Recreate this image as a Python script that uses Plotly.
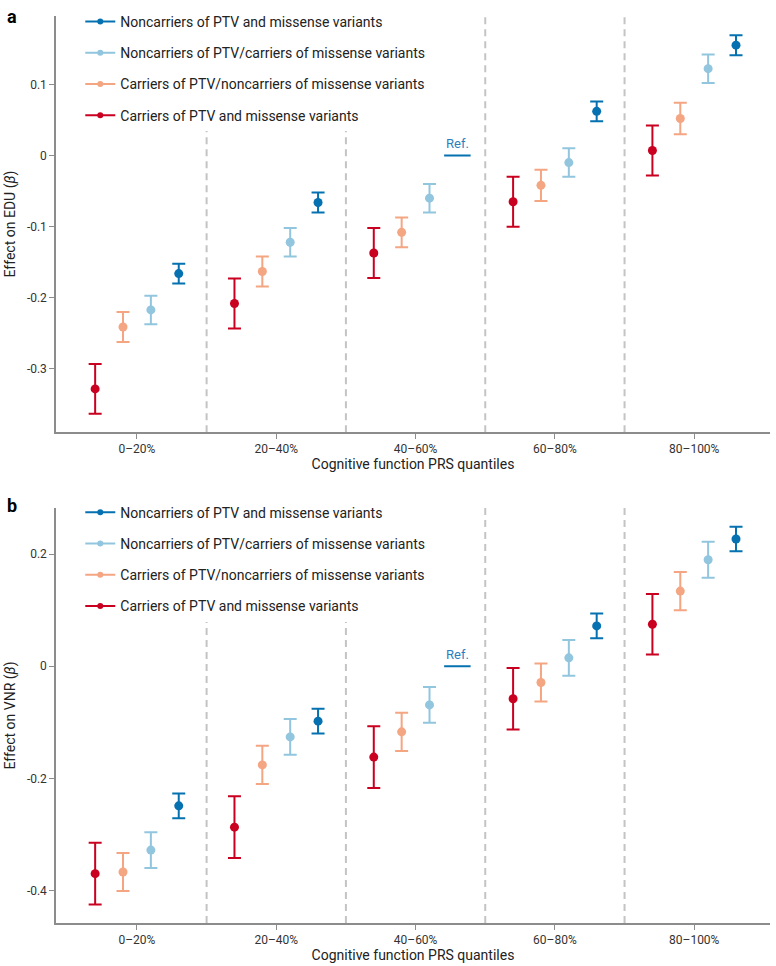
import plotly.graph_objects as go
from plotly.subplots import make_subplots

quantiles = ["0–20%", "20–40%", "40–60%", "60–80%", "80–100%"]
series_names = [
    "Noncarriers of PTV and missense variants",
    "Noncarriers of PTV/carriers of missense variants",
    "Carriers of PTV/noncarriers of missense variants",
    "Carriers of PTV and missense variants",
]
series_colors = ["#0571b0", "#92c5de", "#f4a582", "#ca0020"]
series_offsets = [0.3, 0.1, -0.1, -0.3]

# panel a: EDU (None = reference group)
edu_noncarrier_both = [-0.166, -0.066, None, 0.062, 0.155]
edu_noncarrier_both_err = [0.014, 0.014, None, 0.014, 0.014]
edu_missense_only = [-0.217, -0.122, -0.060, -0.010, 0.122]
edu_missense_only_err = [0.020, 0.020, 0.020, 0.020, 0.020]
edu_ptv_only = [-0.241, -0.163, -0.108, -0.042, 0.052]
edu_ptv_only_err = [0.021, 0.021, 0.021, 0.022, 0.022]
edu_carrier_both = [-0.328, -0.208, -0.137, -0.065, 0.007]
edu_carrier_both_err = [0.035, 0.035, 0.035, 0.035, 0.035]
edu_ticks = [-0.3, -0.2, -0.1, 0, 0.1]

# panel b: VNR
vnr_noncarrier_both = [-0.249, -0.098, None, 0.072, 0.227]
vnr_noncarrier_both_err = [0.022, 0.022, None, 0.022, 0.022]
vnr_missense_only = [-0.328, -0.126, -0.069, 0.015, 0.190]
vnr_missense_only_err = [0.032, 0.032, 0.032, 0.032, 0.032]
vnr_ptv_only = [-0.367, -0.176, -0.117, -0.029, 0.134]
vnr_ptv_only_err = [0.034, 0.034, 0.034, 0.034, 0.034]
vnr_carrier_both = [-0.370, -0.287, -0.162, -0.058, 0.075]
vnr_carrier_both_err = [0.055, 0.055, 0.055, 0.055, 0.054]
vnr_ticks = [-0.4, -0.2, 0, 0.2]

ref_group = 2
ref_value = 0.0

panels = [
    ([edu_noncarrier_both, edu_missense_only, edu_ptv_only, edu_carrier_both],
     [edu_noncarrier_both_err, edu_missense_only_err, edu_ptv_only_err, edu_carrier_both_err],
     "Effect on EDU (<i>β</i>)"),
    ([vnr_noncarrier_both, vnr_missense_only, vnr_ptv_only, vnr_carrier_both],
     [vnr_noncarrier_both_err, vnr_missense_only_err, vnr_ptv_only_err, vnr_carrier_both_err],
     "Effect on VNR (<i>β</i>)"),
]

FONT = "Roboto"
fig = make_subplots(rows=2, cols=1)

for p, (vals, errs, ytitle) in enumerate(panels):
    row = p + 1
    sfx = "" if row == 1 else str(row)
    leg = "legend" if p == 0 else "legend2"
    # legend-only entries (line + small dot)
    for k in range(4):
        fig.add_trace(go.Scatter(
            x=[None], y=[None], mode="lines+markers", name=series_names[k],
            line=dict(color=series_colors[k], width=2),
            marker=dict(color=series_colors[k], size=6),
            legend=leg, legendgroup=f"g{p}{k}", showlegend=True,
        ), row=row, col=1)
    # data, drawn red first
    for k in [3, 2, 1, 0]:
        xs = [i + series_offsets[k] for i in range(len(quantiles))]
        fig.add_trace(go.Scatter(
            x=xs, y=vals[k], mode="markers", showlegend=False,
            marker=dict(color=series_colors[k], size=9),
            error_y=dict(type="data", array=errs[k], color=series_colors[k],
                         thickness=2, width=6.5),
        ), row=row, col=1)
    # reference segment
    xr = ref_group + series_offsets[0]
    fig.add_trace(go.Scatter(
        x=[xr - 0.095, xr + 0.095], y=[ref_value, ref_value], mode="lines",
        line=dict(color=series_colors[0], width=2), showlegend=False,
    ), row=row, col=1)
    fig.add_annotation(x=xr, y=ref_value, text="Ref.", showarrow=False,
                       yshift=12, font=dict(family=FONT, size=13, color="#2a7fc0"),
                       xref="x" + sfx, yref="y" + sfx)
    # y title as annotation so it sits where the original has it
    fig.add_annotation(text=ytitle, textangle=-90, x=-0.064, y=0.5,
                       xref="paper", yref="y" + sfx + " domain", showarrow=False,
                       xanchor="center", yanchor="middle",
                       font=dict(family=FONT, size=14, color="#222"))
    # dashed separators
    for i in range(len(quantiles) - 1):
        fig.add_shape(type="line", x0=i + 0.5, x1=i + 0.5, y0=0, y1=1,
                      xref="x" + sfx, yref="y" + sfx + " domain",
                      line=dict(color="#c4c4c4", width=2, dash="7px,5px"),
                      layer="below")

xaxis_common = dict(
    range=[-0.581, 4.544], tickvals=list(range(len(quantiles))), ticktext=quantiles,
    showline=True, linecolor="#8c8c8c", linewidth=1.5, ticks="outside", ticklen=5,
    tickcolor="#8c8c8c", showgrid=False, zeroline=False, automargin=False,
    tickfont=dict(family=FONT, size=12, color="#333"),
    title=dict(text="Cognitive function PRS quantiles", standoff=4,
               font=dict(family=FONT, size=14, color="#222")),
)
yaxis_common = dict(
    showline=True, linecolor="#8c8c8c", linewidth=1.5, ticks="outside", ticklen=5,
    tickcolor="#8c8c8c", showgrid=False, zeroline=False, automargin=False,
    tickfont=dict(family=FONT, size=12, color="#333"),
)

fig.update_layout(
    width=776, height=966, plot_bgcolor="white", paper_bgcolor="white",
    margin=dict(l=56, r=6, t=13, b=43),
    font=dict(family=FONT, color="#222"),
    xaxis=dict(domain=[0, 1], anchor="y", **xaxis_common),
    xaxis2=dict(domain=[0, 1], anchor="y2", **xaxis_common),
    yaxis=dict(domain=[0.541, 1], range=[-0.389, 0.196], tickvals=edu_ticks,
               ticktext=[f"{v:g}" for v in edu_ticks], **yaxis_common),
    yaxis2=dict(domain=[0, 0.458], range=[-0.458, 0.283], tickvals=vnr_ticks,
                ticktext=[f"{v:g}" for v in vnr_ticks], **yaxis_common),
    legend=dict(x=0.034, y=1.011, xanchor="left", yanchor="top", bgcolor="white",
                font=dict(family=FONT, size=14, color="#222"),
                tracegroupgap=10, itemwidth=30),
    legend2=dict(x=0.034, y=0.470, xanchor="left", yanchor="top", bgcolor="white",
                 font=dict(family=FONT, size=14, color="#222"),
                 tracegroupgap=10, itemwidth=30),
)

fig.add_annotation(text="<b>a</b>", x=-0.072, y=1.013, xref="paper", yref="paper",
                   showarrow=False, xanchor="left", yanchor="top",
                   font=dict(family=FONT, size=18, color="black"))
fig.add_annotation(text="<b>b</b>", x=-0.072, y=0.474, xref="paper", yref="paper",
                   showarrow=False, xanchor="left", yanchor="top",
                   font=dict(family=FONT, size=18, color="black"))

fig.write_html("out.html", config={"displayModeBar": False},
               post_script="document.body.style.margin='0';")
